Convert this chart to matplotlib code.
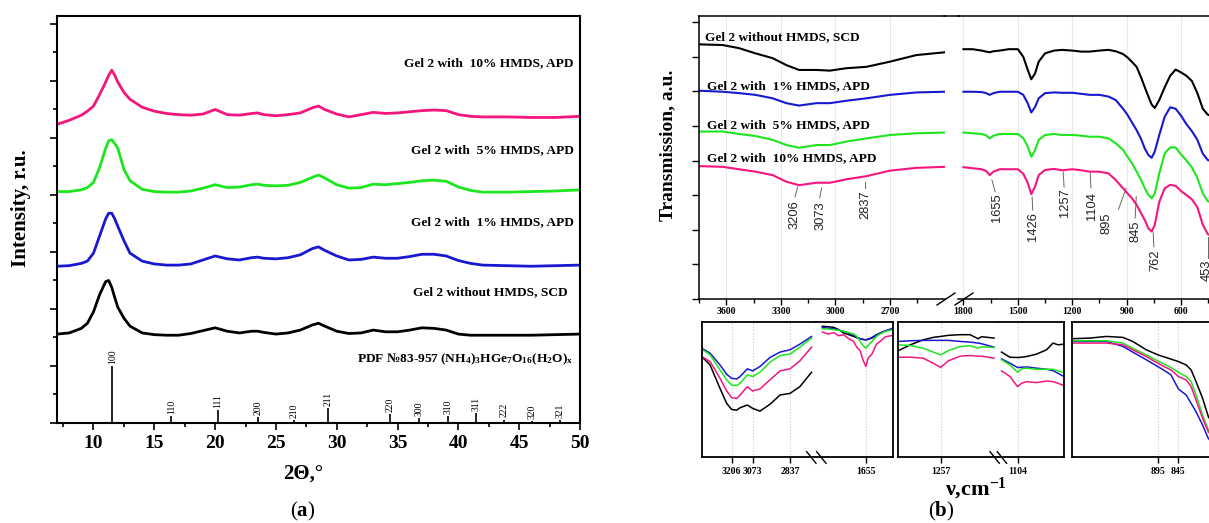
import numpy as np
import matplotlib
matplotlib.use("Agg")
import matplotlib.pyplot as plt
from matplotlib.lines import Line2D

# ---------------- data: (a) XRD ----------------
xrd_2theta = [7, 8, 9, 9.5, 10, 10.5, 11, 11.25, 11.5, 11.75, 12, 12.5, 13, 14, 15, 16, 17, 18, 19, 20,
              21, 22, 23, 23.5, 24, 25, 26, 27, 28, 28.5, 29, 30, 31, 32, 33, 34, 35, 36, 37, 38,
              39, 40, 41, 42, 44, 46, 48, 50]
xrd_scd = [1.56, 1.58, 1.66, 1.75, 1.95, 2.25, 2.48, 2.50, 2.38, 2.20, 2.03, 1.84, 1.70, 1.58, 1.55, 1.54, 1.54, 1.57, 1.62, 1.67,
           1.61, 1.58, 1.61, 1.61, 1.59, 1.56, 1.58, 1.63, 1.72, 1.75, 1.70, 1.61, 1.57, 1.58, 1.63, 1.60, 1.60, 1.63, 1.67, 1.66,
           1.63, 1.56, 1.54, 1.54, 1.54, 1.54, 1.55, 1.56]
xrd_1 = [2.75, 2.76, 2.80, 2.84, 2.98, 3.28, 3.58, 3.68, 3.68, 3.58, 3.45, 3.20, 2.98, 2.84, 2.79, 2.77, 2.77, 2.79, 2.86, 2.93,
         2.88, 2.86, 2.90, 2.91, 2.89, 2.88, 2.90, 2.95, 3.06, 3.09, 3.03, 2.93, 2.86, 2.87, 2.91, 2.89, 2.89, 2.92, 2.96, 2.96,
         2.93, 2.85, 2.80, 2.77, 2.76, 2.75, 2.76, 2.77]
xrd_5 = [4.06, 4.06, 4.09, 4.13, 4.22, 4.48, 4.82, 4.95, 4.97, 4.90, 4.82, 4.45, 4.25, 4.10, 4.06, 4.05, 4.05, 4.07, 4.12, 4.18,
         4.13, 4.14, 4.18, 4.19, 4.17, 4.16, 4.17, 4.22, 4.31, 4.35, 4.30, 4.18, 4.12, 4.13, 4.19, 4.18, 4.20, 4.22, 4.25, 4.26,
         4.24, 4.14, 4.08, 4.05, 4.05, 4.06, 4.07, 4.09]
xrd_10 = [5.24, 5.31, 5.40, 5.47, 5.56, 5.76, 5.98, 6.10, 6.19, 6.10, 5.98, 5.80, 5.68, 5.54, 5.47, 5.43, 5.41, 5.40, 5.42, 5.50,
          5.41, 5.40, 5.43, 5.44, 5.41, 5.39, 5.41, 5.44, 5.53, 5.56, 5.50, 5.42, 5.37, 5.41, 5.45, 5.43, 5.44, 5.46, 5.48, 5.49,
          5.48, 5.41, 5.38, 5.37, 5.37, 5.36, 5.36, 5.38]
pdf_pos = [11.55, 16.4, 20.25, 23.56, 26.5, 29.27, 34.4, 36.8, 39.18, 41.48, 43.75, 46.06, 48.36]
pdf_int = [1.00, 0.12, 0.23, 0.10, 0.05, 0.26, 0.16, 0.08, 0.12, 0.18, 0.06, 0.04, 0.05]
pdf_hkl = ['100', '110', '111', '200', '210', '211', '220', '300', '310', '311', '222', '320', '321']

# ---------------- data: (b) IR ----------------
ir_hi_wn = [3750, 3620, 3530, 3440, 3345, 3270, 3200, 3105, 3030, 2940, 2830, 2700, 2555, 2400]
ir_hi_scd = [7.36, 7.34, 7.25, 7.10, 6.96, 6.76, 6.62, 6.62, 6.60, 6.67, 6.71, 6.86, 7.05, 7.13]
ir_hi_1 = [6.02, 5.99, 5.95, 5.90, 5.80, 5.66, 5.59, 5.66, 5.66, 5.73, 5.80, 5.90, 5.97, 5.99]
ir_hi_5 = [4.84, 4.84, 4.77, 4.71, 4.60, 4.45, 4.37, 4.45, 4.45, 4.55, 4.64, 4.74, 4.79, 4.81]
ir_hi_10 = [3.84, 3.82, 3.75, 3.68, 3.58, 3.39, 3.29, 3.36, 3.36, 3.46, 3.55, 3.71, 3.79, 3.82]

ir_lo_wn = [1800, 1750, 1700, 1675, 1655, 1635, 1600, 1550, 1500, 1470, 1445, 1426, 1405, 1385, 1350,
            1300, 1257, 1200, 1150, 1104, 1050, 1000, 960, 920, 895, 870, 845, 820, 800, 780, 762, 745,
            720, 690, 660, 630, 600, 570, 540, 510, 480, 453, 430]
ir_lo_scd = [7.22, 7.22, 7.18, 7.15, 7.13, 7.16, 7.18, 7.22, 7.22, 7.00, 6.62, 6.35, 6.52, 6.86, 7.10,
             7.18, 7.20, 7.18, 7.15, 7.15, 7.18, 7.20, 7.16, 7.08, 6.98, 6.85, 6.71, 6.40, 6.12, 5.85, 5.62, 5.52,
             5.75, 6.12, 6.45, 6.63, 6.55, 6.45, 6.30, 5.95, 5.50, 5.33, 5.28]
ir_lo_1 = [5.99, 5.99, 5.98, 5.95, 5.90, 5.95, 5.99, 5.99, 5.99, 5.90, 5.65, 5.39, 5.55, 5.80, 5.95,
           5.97, 5.96, 5.96, 5.93, 5.90, 5.90, 5.85, 5.75, 5.50, 5.32, 5.10, 4.88, 4.62, 4.35, 4.16, 4.08, 4.26,
           4.74, 5.27, 5.54, 5.50, 5.30, 5.05, 4.85, 4.60, 4.20, 4.02, 3.97]
ir_lo_5 = [4.81, 4.79, 4.77, 4.73, 4.64, 4.72, 4.77, 4.77, 4.77, 4.65, 4.40, 4.11, 4.30, 4.60, 4.74,
           4.77, 4.74, 4.74, 4.72, 4.69, 4.69, 4.64, 4.50, 4.31, 4.11, 3.92, 3.68, 3.44, 3.20, 3.01, 2.91, 3.05,
           3.63, 4.21, 4.38, 4.38, 4.18, 4.00, 3.80, 3.50, 3.05, 2.83, 2.78]
ir_lo_10 = [3.81, 3.78, 3.75, 3.70, 3.58, 3.68, 3.75, 3.75, 3.75, 3.62, 3.35, 3.03, 3.25, 3.58, 3.73,
            3.76, 3.72, 3.75, 3.72, 3.68, 3.68, 3.63, 3.44, 3.20, 3.05, 2.91, 2.72, 2.48, 2.28, 2.04, 1.95, 2.14,
            2.81, 3.20, 3.30, 3.27, 3.12, 3.00, 2.88, 2.65, 2.15, 1.88, 1.80]

# insets (relative transmission, 0 = bottom of inset, 1 = top)
in1a_wn = [3396, 3343, 3280, 3238, 3206, 3174, 3153, 3107, 3073, 3027, 2964, 2900, 2837, 2774, 2700]
in1a_scd = [0.744, 0.682, 0.508, 0.397, 0.352, 0.347, 0.365, 0.385, 0.360, 0.340, 0.390, 0.459, 0.471, 0.521, 0.628]
in1a_1 = [0.806, 0.769, 0.682, 0.613, 0.583, 0.578, 0.596, 0.653, 0.638, 0.670, 0.737, 0.777, 0.794, 0.836, 0.893]
in1a_5 = [0.799, 0.757, 0.645, 0.571, 0.533, 0.529, 0.546, 0.608, 0.596, 0.628, 0.702, 0.752, 0.762, 0.814, 0.881]
in1a_10 = [0.744, 0.707, 0.583, 0.489, 0.439, 0.434, 0.459, 0.521, 0.489, 0.504, 0.571, 0.638, 0.653, 0.712, 0.814]

in1b_wn = [1800, 1780, 1762, 1745, 1729, 1712, 1696, 1685, 1674, 1665, 1655, 1648, 1635, 1620, 1608, 1590, 1564]
in1b_scd = [0.968, 0.965, 0.960, 0.943, 0.918, 0.906, 0.893, 0.883, 0.876, 0.871, 0.868, 0.871, 0.881, 0.901, 0.918, 0.935, 0.950]
in1b_1 = [0.960, 0.955, 0.950, 0.940, 0.931, 0.916, 0.901, 0.888, 0.876, 0.871, 0.868, 0.873, 0.886, 0.906, 0.918, 0.935, 0.955]
in1b_5 = [0.950, 0.948, 0.943, 0.938, 0.931, 0.921, 0.911, 0.893, 0.856, 0.826, 0.806, 0.826, 0.856, 0.893, 0.911, 0.931, 0.943]
in1b_10 = [0.926, 0.911, 0.921, 0.898, 0.906, 0.876, 0.856, 0.811, 0.787, 0.720, 0.670, 0.732, 0.762, 0.836, 0.856, 0.891, 0.901]

in2a_wn = [1342, 1318, 1292, 1272, 1257, 1242, 1218, 1198, 1182, 1175, 1150]
in2a_scd = [0.787, 0.831, 0.868, 0.886, 0.893, 0.901, 0.906, 0.906, 0.876, 0.891, 0.881]
in2a_1 = [0.856, 0.861, 0.864, 0.864, 0.864, 0.864, 0.856, 0.851, 0.844, 0.839, 0.814]
in2a_5 = [0.831, 0.826, 0.806, 0.777, 0.757, 0.787, 0.819, 0.824, 0.806, 0.816, 0.811]
in2a_10 = [0.739, 0.739, 0.732, 0.695, 0.663, 0.712, 0.747, 0.752, 0.747, 0.747, 0.732]

in2b_wn = [1136, 1119, 1104, 1096, 1086, 1066, 1046, 1033, 1023, 1011]
in2b_scd = [0.777, 0.739, 0.737, 0.739, 0.744, 0.762, 0.794, 0.844, 0.831, 0.836]
in2b_1 = [0.727, 0.695, 0.663, 0.665, 0.667, 0.658, 0.650, 0.640, 0.620, 0.596]
in2b_5 = [0.720, 0.682, 0.628, 0.653, 0.658, 0.650, 0.650, 0.650, 0.638, 0.625]
in2b_10 = [0.638, 0.596, 0.521, 0.546, 0.558, 0.551, 0.563, 0.558, 0.546, 0.529]

in3_wn = [1103, 1060, 1020, 980, 956, 923, 895, 875, 863, 845, 826, 814, 802, 786, 772, 760]
in3_scd = [0.876, 0.881, 0.893, 0.886, 0.856, 0.794, 0.757, 0.737, 0.725, 0.707, 0.682, 0.645, 0.558, 0.434, 0.298, 0.24]
in3_1 = [0.856, 0.856, 0.856, 0.819, 0.777, 0.720, 0.670, 0.633, 0.608, 0.504, 0.459, 0.397, 0.335, 0.236, 0.136, 0.10]
in3_5 = [0.861, 0.861, 0.861, 0.844, 0.806, 0.757, 0.712, 0.682, 0.663, 0.628, 0.596, 0.558, 0.459, 0.310, 0.199, 0.15]
in3_10 = [0.844, 0.844, 0.844, 0.831, 0.794, 0.744, 0.695, 0.663, 0.645, 0.596, 0.571, 0.521, 0.422, 0.285, 0.186, 0.14]

series_names = ['Gel 2 without HMDS, SCD', 'Gel 2 with  1% HMDS, APD',
                'Gel 2 with  5% HMDS, APD', 'Gel 2 with  10% HMDS, APD']

# ---------------- style ----------------
W, H = 1209, 523
COLS = ['#000000', '#1818d0', '#1ee61e', '#f5157f']
plt.rcParams['font.family'] = ['Liberation Serif', 'DejaVu Serif']
plt.rcParams['mathtext.fontset'] = 'custom'
plt.rcParams['mathtext.rm'] = 'Liberation Serif:bold'
plt.rcParams['mathtext.it'] = 'Liberation Serif:italic:bold'
plt.rcParams['mathtext.bf'] = 'Liberation Serif:bold'
plt.rcParams['mathtext.sf'] = 'Liberation Serif'

fig = plt.figure(figsize=(W / 100, H / 100), dpi=100)


def px_axes(x0, y0, x1, y1):
    return fig.add_axes([x0 / W, 1 - y1 / H, (x1 - x0) / W, (y1 - y0) / H])


def ftext(x, y, s, **kw):
    return fig.text(x / W, 1 - y / H, s, **kw)


def fline(x0, y0, x1, y1, **kw):
    fig.add_artist(Line2D([x0 / W, x1 / W], [1 - y0 / H, 1 - y1 / H],
                          transform=fig.transFigure, **kw))


# ================= (a) =================
axL = px_axes(57, 16, 580, 423)
for ys, c in zip([xrd_scd, xrd_1, xrd_5, xrd_10], COLS):
    axL.plot(xrd_2theta, ys, color=c, lw=2.0)
axL.vlines(pdf_pos, 0, pdf_int, color='black', lw=1.2)
for p, h, lab in zip(pdf_pos, pdf_int, pdf_hkl):
    axL.annotate(lab, (p, h), xytext=(0, 1.5), textcoords='offset points',
                 rotation=90, ha='center', va='bottom', fontsize=7)
axL.set_xlim(7, 50)
axL.set_ylim(0, 7.14)
axL.set_xticks(range(10, 51, 5))
axL.set_xticks(np.arange(7.5, 50, 2.5), minor=True)
axL.set_yticks(range(0, 8))
axL.set_yticks(np.arange(0.5, 7, 1.0), minor=True)
axL.tick_params(which='both', direction='out', labelleft=False, width=1.2)
axL.tick_params(which='major', length=5, pad=4, labelsize=14)
axL.tick_params(which='minor', length=3)
for t in axL.get_xticklabels():
    t.set_fontweight('bold')
for s in axL.spines.values():
    s.set_linewidth(1.5)

lbl_y = [2.29, 3.53, 4.78, 6.32]
lbl_x = [49.0, 49.48, 49.48, 49.48]
for name, x, y in zip(series_names, lbl_x, lbl_y):
    axL.text(x, y, name, ha='right', va='center', fontsize=9.6, fontweight='bold')
axL.text(49.43, 1.12, r'PDF №83-957 (NH$_4$)$_3$HGe$_7$O$_{16}$(H$_2$O)$_\mathrm{x}$',
         ha='right', va='center', fontsize=9.6, fontweight='bold')

ftext(21, 208, 'Intensity, r.u.', rotation=90, ha='center', va='center',
      fontsize=15, fontweight='bold')
ftext(303, 474, '2Θ,°', ha='center', va='center', fontsize=15, fontweight='bold')
ftext(303, 511, r'$\mathsf{(}\mathbf{a}\mathsf{)}$', ha='center', va='center', fontsize=15)

# ================= (b) main =================
Y0, Y1 = 16, 299
axA = px_axes(699, Y0, 945, Y1)
axB = px_axes(958, Y0, 1217.3, Y1)
hi_sets = [ir_hi_scd, ir_hi_1, ir_hi_5, ir_hi_10]
lo_sets = [ir_lo_scd, ir_lo_1, ir_lo_5, ir_lo_10]
for ys, c in zip(hi_sets, COLS):
    axA.plot(ir_hi_wn, ys, color=c, lw=1.5)
for ys, c in zip(lo_sets, COLS):
    axB.plot(ir_lo_wn, ys, color=c, lw=1.5)
axA.set_xlim(3750, 2398)
axB.set_xlim(1830, 400)
for ax in (axA, axB):
    ax.set_ylim(0, 283 / 34.6)
    ax.grid(axis='x', color='#e9e9e9', lw=0.8)
    ax.set_axisbelow(True)
    for s in ax.spines.values():
        s.set_linewidth(1.1)
    ax.tick_params(which='both', direction='out', width=1.0)
    ax.tick_params(which='major', length=4, pad=1.5, labelsize=7)
    ax.tick_params(which='minor', length=3)
axA.set_xticks([3600, 3300, 3000, 2700])
axA.set_xticks([3750, 3450, 3150, 2850, 2550], minor=True)
axB.set_xticks([1800, 1500, 1200, 900, 600])
axB.set_xticks([1650, 1350, 1050, 750, 450], minor=True)
axA.set_yticks(range(0, 9))
axA.tick_params(axis='y', length=5, labelleft=False)
axB.tick_params(axis='y', left=False, labelleft=False)
axA.spines['right'].set_visible(False)
axB.spines['left'].set_visible(False)
for ax in (axA, axB):
    for t in ax.get_xticklabels():
        t.set_fontweight('bold')

# continuous top frame and broken bottom axis
fline(944, Y0, 959, Y0, color='black', lw=1.1)
fline(937, 305, 955, 293, color='black', lw=1.0)
fline(955, 305, 973, 293, color='black', lw=1.0)

# curve labels
lab_px = [(705, 36.7), (706.7, 85.7), (706.7, 125), (706.7, 157.7)]
for name, (x, y) in zip(series_names, lab_px):
    ftext(x, y, name, ha='left', va='center', fontsize=9.6, fontweight='bold')

ftext(668, 145, 'Transmission, a.u.', rotation=90, ha='center', va='center',
      fontsize=14, fontweight='bold')

# peak annotations: (label, axis, x0, y0, x1, y1, text x, text top y)
peak_notes = [
    ('3206', axA, 3208, 3.24, 3222, 2.95, 3225, 2.86),
    ('3073', axA, 3076, 3.21, 3087, 2.92, 3082, 2.83),
    ('2837', axA, 2835, 3.38, 2835, 3.21, 2835, 3.15),
    ('1655', axB, 1643, 3.44, 1625, 3.10, 1616, 3.06),
    ('1426', axB, 1421, 2.95, 1418, 2.57, 1416, 2.51),
    ('1257', axB, 1250, 3.67, 1245, 3.24, 1239, 3.21),
    ('1104', axB, 1101, 3.64, 1097, 3.21, 1092, 3.10),
    ('895', axB, 903, 3.20, 945, 2.59, 1009, 2.49),
    ('845', axB, 847, 2.96, 853, 2.34, 853, 2.28),
    ('762', axB, 753, 1.91, 750, 1.51, 741, 1.42),
    ('453', axB, 450, 1.79, 450, 1.18, 457, 1.13),
]
for lab, ax, x0, y0, x1, y1, xt, yt in peak_notes:
    ax.plot([x0, x1], [y0, y1], color='#666666', lw=0.7)
    ax.text(xt, yt, lab, rotation=90, ha='center', va='top', fontsize=9.3,
            family=['Liberation Sans', 'DejaVu Sans'], color='#222222', clip_on=False)

# ================= (b) insets =================
IY0, IY1 = 322, 457
i1a = px_axes(701.7, IY0, 816, IY1)
i1b = px_axes(816, IY0, 893.3, IY1)
i2a = px_axes(898.3, IY0, 997.5, IY1)
i2b = px_axes(997.5, IY0, 1064, IY1)
i3 = px_axes(1072.3, IY0, 1238, IY1)

insets = [
    (i1a, in1a_wn, [in1a_scd, in1a_1, in1a_5, in1a_10], (3396, 2672), [3206, 3073, 2837], 'left'),
    (i1b, in1b_wn, [in1b_scd, in1b_1, in1b_5, in1b_10], (1821, 1564), [1655], 'right'),
    (i2a, in2a_wn, [in2a_scd, in2a_1, in2a_5, in2a_10], (1342, 1143), [1257], 'left'),
    (i2b, in2b_wn, [in2b_scd, in2b_1, in2b_5, in2b_10], (1144, 1011), [1104], 'right'),
    (i3, in3_wn, [in3_scd, in3_1, in3_5, in3_10], (1103, 700), [895, 845], 'both'),
]
for ax, wn, sets, xl, marks, side in insets:
    for m in marks:
        ax.axvline(m, color='#c8c8c8', lw=0.8, ls=':', zorder=0)
    for ys, c in zip(sets, COLS):
        ax.plot(wn, ys, color=c, lw=1.1)
    ax.set_xlim(*xl)
    ax.set_ylim(0, 1)
    ax.set_yticks([])
    ax.set_xticks(marks)
    ax.set_xticklabels([str(m) for m in marks])
    ax.tick_params(axis='x', direction='out', length=4, width=1.0, pad=3, labelsize=7)
    for t in ax.get_xticklabels():
        t.set_fontweight('bold')
    for s in ax.spines.values():
        s.set_linewidth(1.3)
    if side == 'left':
        ax.spines['right'].set_visible(False)
    elif side == 'right':
        ax.spines['left'].set_visible(False)

# break marks on inset axes
for x0 in (806.7, 816.7, 990, 997.3):
    fline(x0, 451.7, x0 + 9.3, 463.3, color='black', lw=1.0)

ftext(976, 489, r'ν,cm$^{-1}$', ha='center', va='center', fontsize=16, fontweight='bold')
ftext(941, 511, r'$\mathsf{(}\mathbf{b}\mathsf{)}$', ha='center', va='center', fontsize=15)

fig.savefig('out.png', dpi=100)
